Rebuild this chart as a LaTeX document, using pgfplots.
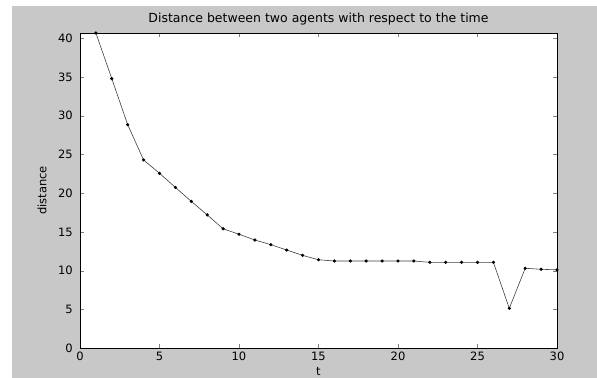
\documentclass[border=0pt]{standalone}
\usepackage{pgfplots}
\pgfplotsset{compat=1.18}
\usepackage{fontspec}
\setmainfont{DejaVu Sans}
\definecolor{bggray}{RGB}{200,200,200}
\begin{document}
\fontsize{11.5bp}{13bp}\selectfont
\begin{tikzpicture}
\useasboundingbox (-80bp,-30bp) rectangle (517bp,348bp);
\fill[white] (-80bp,-30bp) rectangle (517bp,348bp);
\fill[bggray] (-68bp,-30bp) rectangle (517bp,342bp);
\begin{axis}[
  at={(0,0)}, anchor=origin,
  scale only axis, width=477bp, height=315bp,
  xmin=0, xmax=30, ymin=0, ymax=40.7,
  xtick={0,5,...,30}, ytick={0,5,...,40},
  tick align=inside, major tick length=4bp,
  xtick pos=both, ytick pos=both,
  axis background/.style={fill=white},
  axis line style={black, line width=0.6pt},
  /pgf/number format/assume math mode=true,
  yticklabel style={anchor=east, inner sep=0pt, xshift=-7bp},
  xticklabel style={anchor=north, inner sep=0pt, yshift=-4bp},
  title={Distance between two agents with respect to the time},
  every axis title/.style={at={(axis description cs:0.5,1)}, anchor=center, yshift=14bp, font=\fontsize{12.5bp}{14bp}\selectfont},
  xlabel={t}, ylabel={distance},
  every axis x label/.style={at={(axis description cs:0.5,0)}, anchor=center, yshift=-23bp},
  every axis y label/.style={at={(axis description cs:0,0.5)}, anchor=center, rotate=90, yshift=38bp},
]
\addplot[black!75, line width=0.6pt, mark=*, mark size=1.3pt, mark options={black, fill=black}] coordinates {
(1,40.7) (2,34.8) (3,28.85) (4,24.3) (5,22.57) (6,20.75) (7,18.95) (8,17.2) (9,15.4) (10,14.7)
(11,13.95) (12,13.35) (13,12.66) (14,11.97) (15,11.4) (16,11.24) (17,11.24) (18,11.24) (19,11.24) (20,11.24)
(21,11.24) (22,11.07) (23,11.07) (24,11.07) (25,11.07) (26,11.07) (27,5.13) (28,10.3) (29,10.17) (30,10.1)
};
\end{axis}
\end{tikzpicture}
\end{document}
